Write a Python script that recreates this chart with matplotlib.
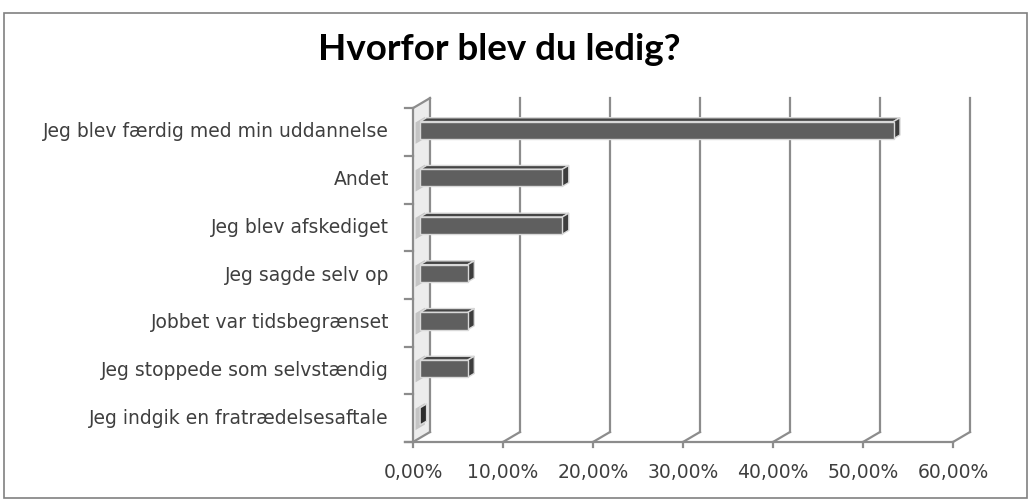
import matplotlib
matplotlib.use("Agg")
import matplotlib.pyplot as plt
from matplotlib.patches import Polygon, Rectangle

# data
categories = [
    "Jeg blev færdig med min uddannelse",
    "Andet",
    "Jeg blev afskediget",
    "Jeg sagde selv op",
    "Jobbet var tidsbegrænset",
    "Jeg stoppede som selvstændig",
    "Jeg indgik en fratrædelsesaftale",
]
values = [52.6, 15.8, 15.8, 5.3, 5.3, 5.3, 0.0]
ticks = [0, 10, 20, 30, 40, 50, 60]
tick_labels = ["0,00%", "10,00%", "20,00%", "30,00%", "40,00%", "50,00%", "60,00%"]
title = "Hvorfor blev du ledig?"

W, H = 1031, 500
fig = plt.figure(figsize=(W / 100, H / 100), dpi=100)
ax = fig.add_axes([0, 0, 1, 1])

# pixel scale: 9 px per percent, 47.7 px per category, origin at (413, 442)
px_x, px_y = 9.0, 47.7
ax.set_xlim(-413 / px_x, (W - 413) / px_x)
ax.set_ylim(-(H - 442) / px_y, 442 / px_y)
ax.axis("off")

n = len(categories)
DX, DY = 17 / px_x, 10 / px_y     # depth of the 3d box
grid_c = "#8c8c8c"
txt_c = "#3f3f3f"

# left wall
ax.add_patch(Polygon([(0, 0), (DX, DY), (DX, n + DY), (0, n)],
                     closed=True, fc="#ececec", ec="none", zorder=1))
for i in range(n):
    yc = n - i - 0.5
    ax.add_patch(Polygon([(0.15 * DX, yc - 0.25), (0.7 * DX, yc - 0.25 + 0.55 * DY),
                          (0.7 * DX, yc + 0.2 + 0.55 * DY), (0.15 * DX, yc + 0.2)],
                         closed=True, fc="#c4c4c4", ec="none", zorder=1))

# back wall gridlines and floor lines
for t, lab in zip(ticks, tick_labels):
    ax.plot([t + DX, t + DX], [DY, n + DY], color=grid_c, lw=1.6, zorder=2)
    ax.plot([t, t + DX], [0, DY], color=grid_c, lw=1.6, zorder=2)
    ax.plot([t, t], [0, -5 / px_y], color=grid_c, lw=1.6, zorder=2)
    ax.text(t, -31 / px_y, lab, ha="center", va="center",
            fontsize=13.5, color=txt_c, family="DejaVu Sans")

# front axes
ax.plot([-8 / px_x, ticks[-1]], [0, 0], color=grid_c, lw=1.6, zorder=3)
ax.plot([0, 0], [0, n], color=grid_c, lw=1.6, zorder=3)
ax.plot([0, DX], [n, n + DY], color=grid_c, lw=1.6, zorder=3)
for k in range(n + 1):
    ax.plot([-8 / px_x, 0], [k, k], color=grid_c, lw=1.6, zorder=3)

# bars
f0, f1 = 0.42, 0.8
h = 0.18
for i, (cat, v) in enumerate(zip(categories, values)):
    yc = n - i - 0.55
    x0, y0 = f0 * DX, f0 * DY
    x1, y1 = f1 * DX, f1 * DY
    front = [(x0, yc - h + y0), (x0 + v, yc - h + y0), (x0 + v, yc + h + y0), (x0, yc + h + y0)]
    top = [(x0, yc + h + y0), (x0 + v, yc + h + y0), (x1 + v, yc + h + y1), (x1, yc + h + y1)]
    cap = [(x0 + v, yc - h + y0), (x1 + v, yc - h + y1), (x1 + v, yc + h + y1), (x0 + v, yc + h + y0)]
    ax.add_patch(Polygon(top, closed=True, fc="#454545", ec="#d9d9d9", lw=1, zorder=5))
    ax.add_patch(Polygon(cap, closed=True, fc="#2e2e2e" if v == 0 else "#3d3d3d",
                         ec="#d9d9d9", lw=1, zorder=5))
    if v > 0:
        ax.add_patch(Polygon(front, closed=True, fc="#5f5f5f", ec="#d9d9d9", lw=1, zorder=6))
    ax.text(-24 / px_x, n - i - 0.5, cat, ha="right", va="center", fontsize=13.5,
            color=txt_c, family="DejaVu Sans")

fig.text(499 / W, 1 - 49 / H, title, ha="center", va="center", fontsize=26.5,
         fontweight="bold", family="Lato", color="black")

fig.patches.append(Rectangle((4 / W, 2 / H), 1023 / W, 485 / H, transform=fig.transFigure,
                             fill=False, ec="#808080", lw=1.2))

fig.savefig("out.png", dpi=100)
